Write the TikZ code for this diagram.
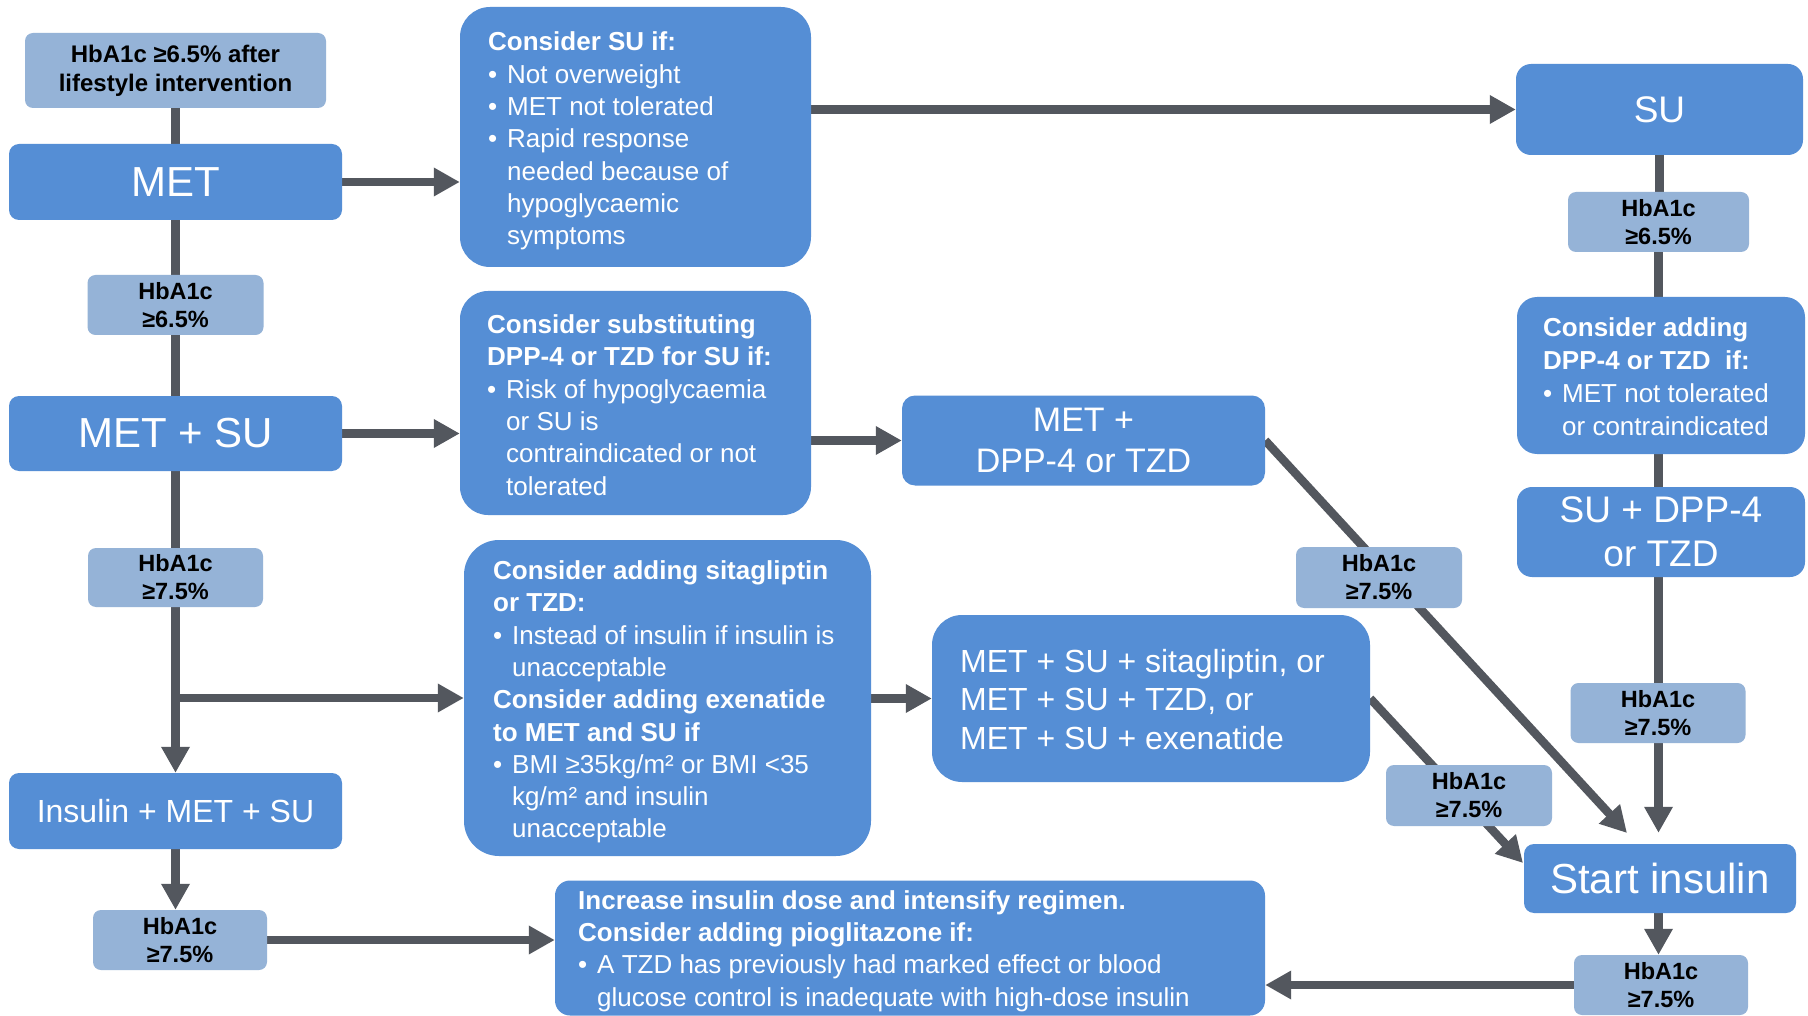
\documentclass[tikz,border=0pt]{standalone}
\usepackage{fontspec}
\setmainfont{Liberation Sans}
\usetikzlibrary{arrows.meta,backgrounds}
\definecolor{boxblue}{HTML}{558ED5}
\definecolor{lightblue}{HTML}{95B3D7}
\definecolor{linegray}{HTML}{53575E}
\newcommand{\bul}{\makebox[19pt][l]{•}}
\newcommand{\ind}{\hspace*{19pt}}
\begin{document}
\begin{tikzpicture}[x=1pt,y=-1pt,
  bluebox/.style={fill=boxblue, draw=none, text=white, inner sep=0pt, align=center},
  hbbox/.style={fill=lightblue, draw=none, text=black, rounded corners=8pt,
    minimum width=175pt, minimum height=60pt, inner sep=0pt, align=center,
    font=\fontsize{23.5}{28}\selectfont\bfseries},
  txt/.style={text=white, align=left, inner sep=0pt, anchor=west,
    font=\fontsize{26}{32.3}\selectfont},
  conn/.style={draw=linegray, line width=8.5pt},
  arr/.style={conn, -{Triangle[length=26pt,width=27pt]}}
]
\useasboundingbox (0,0) rectangle (1808,1016);

% ---------- left column ----------
\node[hbbox, minimum width=301pt, minimum height=75pt,
  font=\fontsize{24}{29}\selectfont\bfseries] (life) at (175.5,70.5)
  {HbA1c ≥6.5\% after\\lifestyle intervention};
\node[bluebox, rounded corners=10pt, minimum width=333pt, minimum height=76pt,
  font=\fontsize{42}{50}\selectfont] (met) at (175.5,182) {MET};
\node[hbbox, minimum width=176pt] (hb1) at (175.5,305) {HbA1c\\≥6.5\%};
\node[bluebox, rounded corners=10pt, minimum width=333pt, minimum height=75pt,
  font=\fontsize{42}{50}\selectfont] (metsu) at (175.5,433.5) {MET + SU};
\node[hbbox, minimum height=59pt] (hb2) at (175.5,577.5) {HbA1c\\≥7.5\%};
\node[bluebox, rounded corners=10pt, minimum width=333pt, minimum height=76pt,
  font=\fontsize{32}{38}\selectfont] (ims) at (175.5,811) {Insulin + MET + SU};
\node[hbbox, minimum width=174pt] (hb3) at (180,940) {HbA1c\\≥7.5\%};

% ---------- middle column ----------
\node[bluebox, rounded corners=30pt, minimum width=351pt, minimum height=260pt] (csu) at (635.5,137) {};
\node[txt] (csut) at (488,141) {\textbf{Consider SU if:}\\
  \bul Not overweight\\
  \bul MET not tolerated\\
  \bul Rapid response\\
  \ind needed because of\\
  \ind hypoglycaemic\\
  \ind symptoms};

\node[bluebox, rounded corners=28pt, minimum width=351pt, minimum height=224pt] (cs2) at (635.5,403) {};
\node[txt] (cs2t) at (487,405) {\textbf{Consider substituting}\\
  \textbf{DPP-4 or TZD for SU if:}\\
  \bul Risk of hypoglycaemia\\
  \ind or SU is\\
  \ind contraindicated or not\\
  \ind tolerated};

\node[bluebox, rounded corners=35pt, minimum width=407pt, minimum height=316pt] (cs3) at (667.5,698) {};
\node[txt] (cs3t) at (493,702) {\textbf{Consider adding sitagliptin}\\
  \textbf{or TZD:}\\
  \bul Instead of insulin if insulin is\\
  \ind unacceptable\\
  \textbf{Consider adding exenatide}\\
  \textbf{to MET and SU if}\\
  \bul BMI ≥35kg/m² or BMI <35\\
  \ind kg/m² and insulin\\
  \ind unacceptable};

\node[bluebox, rounded corners=15pt, minimum width=710pt, minimum height=135pt] (inc) at (910,948) {};
\node[txt] (inct) at (578,951) {\textbf{Increase insulin dose and intensify regimen.}\\
  \textbf{Consider adding pioglitazone if:}\\
  \bul A TZD has previously had marked effect or blood\\
  \ind glucose control is inadequate with high-dose insulin};

\node[bluebox, rounded corners=13pt, minimum width=363pt, minimum height=90pt,
  font=\fontsize{34}{41.5}\selectfont] (metdpp) at (1083.5,440.5) {MET +\\DPP-4 or TZD};

\node[bluebox, rounded corners=30pt, minimum width=438pt, minimum height=167pt] (mss) at (1151,698.5) {};
\node[txt, font=\fontsize{32}{38.6}\selectfont] (msst) at (960,699.5)
  {MET + SU + sitagliptin, or\\MET + SU + TZD, or\\MET + SU + exenatide};

% ---------- right column ----------
\node[bluebox, rounded corners=15pt, minimum width=287pt, minimum height=91pt,
  font=\fontsize{37}{44}\selectfont] (su) at (1659.5,109.5) {SU};
\node[hbbox, minimum width=181pt, minimum height=60pt] (hb4) at (1658.5,222) {HbA1c\\≥6.5\%};
\node[bluebox, rounded corners=20pt, minimum width=288pt, minimum height=157pt] (cdpp) at (1661,375.5) {};
\node[txt, font=\fontsize{26}{33}\selectfont] (cdppt) at (1543,376.5)
  {\textbf{Consider adding}\\
   \textbf{DPP-4 or TZD\ \ if:}\\
   \bul MET not tolerated\\
   \ind or contraindicated};
\node[bluebox, rounded corners=15pt, minimum width=288pt, minimum height=90pt,
  font=\fontsize{37}{44}\selectfont] (sudpp) at (1661,532) {SU + DPP-4\\or TZD};
\node[hbbox] (hb5) at (1658,713) {HbA1c\\≥7.5\%};
\node[bluebox, rounded corners=10pt, minimum width=272pt, minimum height=69pt,
  font=\fontsize{42}{50}\selectfont] (start) at (1660,878.5) {Start insulin};
\node[hbbox, minimum width=174pt] (hb6) at (1661,985) {HbA1c\\≥7.5\%};

\node[hbbox, minimum width=166pt, minimum height=61pt] (hb7) at (1379,577.5) {HbA1c\\≥7.5\%};
\node[hbbox, minimum width=166pt, minimum height=61pt] (hb8) at (1469,795.5) {HbA1c\\≥7.5\%};

\coordinate (tipA) at (1627,833);
\coordinate (tipB) at (1523,863);

% ---------- connectors ----------
\begin{pgfonlayer}{background}
\fill[white] (0,0) rectangle (1808,1016);
% left trunk
\draw[conn] (life.south) -- (met.north);
\draw[conn] (met.south) -- (hb1.north);
\draw[conn] (hb1.south) -- (metsu.north);
\draw[conn] (metsu.south) -- (hb2.north);
\draw[arr] (hb2.south) -- (ims.north);
\draw[arr] (hb2.south |- cs3.west) -- (cs3.west);
\draw[arr] (ims.south) -- (ims.south |- hb3.north);
\draw[arr] (hb3.east) -- (hb3.east -| inc.west);
% horizontal arrows
\draw[arr] (met.east) -- (met.east -| csu.west);
\draw[arr] (csu.east |- su.west) -- (su.west);
\draw[arr] (metsu.east) -- (metsu.east -| cs2.west);
\draw[arr] (cs2.east |- metdpp.west) -- (metdpp.west);
\draw[arr] (cs3.east |- mss.west) -- (mss.west);
% right trunk
\draw[conn] (su.south) -- (su.south |- hb4.north);
\draw[conn] (hb4.south) -- (hb4.south |- cdpp.north);
\draw[conn] (cdpp.south -| hb4.south) -- (sudpp.north -| hb4.south);
\draw[conn] (sudpp.south -| hb4.south) -- (hb5.north -| hb4.south);
\draw[arr, shorten >=11pt] (hb5.south -| hb4.south) -- (start.north -| hb4.south);
\draw[arr] (start.south -| hb4.south) -- (hb6.north -| hb4.south);
\draw[arr] (hb6.west) -- (hb6.west -| inc.east);
% diagonals
\draw[arr] (metdpp.east) -- (tipA);
\draw[arr] (mss.east) -- (tipB);
\end{pgfonlayer}
\end{tikzpicture}
\end{document}
